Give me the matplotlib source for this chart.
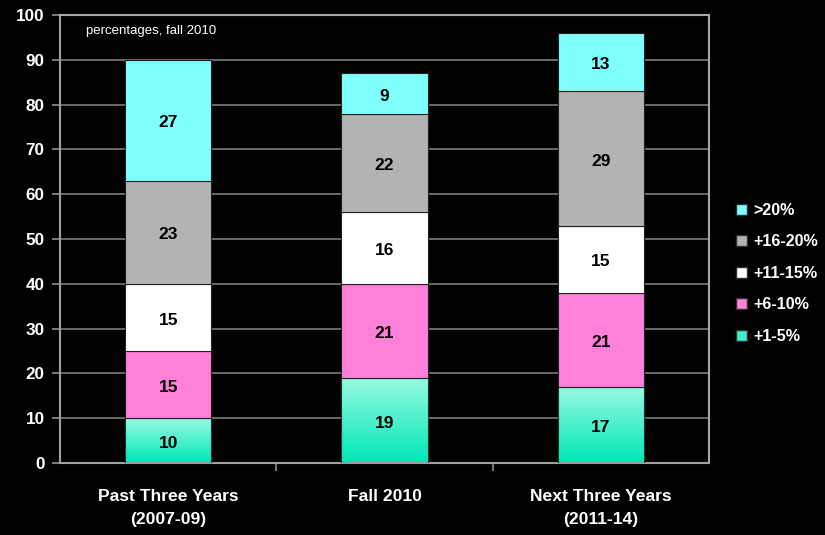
import numpy as np
import matplotlib.pyplot as plt
from matplotlib.patches import Patch
from matplotlib.colors import LinearSegmentedColormap

plt.rcParams["font.family"] = ["Liberation Sans", "DejaVu Sans"]

# Data
categories = ["Past Three Years\n(2007-09)", "Fall 2010", "Next Three Years\n(2011-14)"]
series = ["+1-5%", "+6-10%", "+11-15%", "+16-20%", ">20%"]
# segment heights
heights = {
    "+1-5%": [10, 19, 17],
    "+6-10%": [15, 21, 21],
    "+11-15%": [15, 16, 15],
    "+16-20%": [23, 22, 30],
    ">20%": [27, 9, 13],
}
# numbers printed on the bars
labels = {
    "+1-5%": [10, 19, 17],
    "+6-10%": [15, 21, 21],
    "+11-15%": [15, 16, 15],
    "+16-20%": [23, 22, 29],
    ">20%": [27, 9, 13],
}
colors = {
    "+1-5%": "#40efc8",
    "+6-10%": "#ff80d8",
    "+11-15%": "#ffffff",
    "+16-20%": "#b3b3b3",
    ">20%": "#80ffff",
}
grad = LinearSegmentedColormap.from_list("teal", ["#00e8b8", "#98fae0"])

fig = plt.figure(figsize=(8.25, 5.35), dpi=100, facecolor="black")
ax = fig.add_axes([60 / 825, 72 / 535, 649 / 825, 448 / 535])
ax.set_facecolor("black")

x = np.arange(len(categories))
width = 0.4
bottom = np.zeros(len(categories))
for s in series:
    h = np.array(heights[s], dtype=float)
    if s == "+1-5%":
        bars = ax.bar(x, h, width, bottom=bottom, color="none",
                      edgecolor="#1a3a30", linewidth=0.8, zorder=3)
        for b in bars:
            x0, y0 = b.get_x(), b.get_y()
            ax.imshow(np.linspace(0, 1, 100).reshape(-1, 1), cmap=grad,
                      aspect="auto", origin="lower", zorder=2,
                      extent=[x0, x0 + b.get_width(), y0, y0 + b.get_height()])
    else:
        ax.bar(x, h, width, bottom=bottom, color=colors[s],
               edgecolor="#202020", linewidth=0.8, zorder=3)
    for xi, bi, hi, lab in zip(x, bottom, h, labels[s]):
        ax.text(xi, bi + hi / 2 - 0.6, str(lab), ha="center", va="center",
                fontsize=12.5, fontweight="bold", color="black", zorder=4)
    bottom += h

ax.set_xlim(-0.5, 2.5)
ax.set_ylim(0, 100)
ax.set_yticks(range(0, 101, 10))
ax.set_xticks(x)
ax.set_xticklabels(categories, fontsize=12.6, fontweight="bold", color="white",
                   linespacing=1.65)
ax.tick_params(axis="y", colors="#909090", labelcolor="white", labelsize=12.3,
               length=6, width=1.2, pad=5)
for t in ax.get_yticklabels():
    t.set_fontweight("bold")
ax.tick_params(axis="x", length=0, pad=19)
# minor ticks at category boundaries
ax.set_xticks([0.5, 1.5], minor=True)
ax.tick_params(axis="x", which="minor", length=6, width=1.2, colors="#909090")

ax.yaxis.grid(True, color="#7a7a7a", linewidth=1.2)
ax.set_axisbelow(True)
for sp in ["left", "bottom"]:
    ax.spines[sp].set_color("#a0a0a0")
    ax.spines[sp].set_linewidth(1.5)
for sp in ["top", "right"]:
    ax.spines[sp].set_color("#a8a8a8")
    ax.spines[sp].set_linewidth(1.5)

ax.text(0.04, 0.965, "percentages, fall 2010", transform=ax.transAxes,
        fontsize=9.5, color="white", va="center", ha="left")

handles = [Patch(facecolor=colors[s], edgecolor="#303030", label=s)
           for s in reversed(series)]
leg = fig.legend(handles=handles, loc="upper left",
                 bbox_to_anchor=(728 / 825, 1 - 195 / 535), frameon=False,
                 handlelength=0.65, handleheight=0.65, handletextpad=0.4,
                 labelspacing=1.02, borderpad=0, prop={"size": 11.6, "weight": "bold"})
for t in leg.get_texts():
    t.set_color("white")

fig.savefig("out.png", dpi=100, facecolor="black")
